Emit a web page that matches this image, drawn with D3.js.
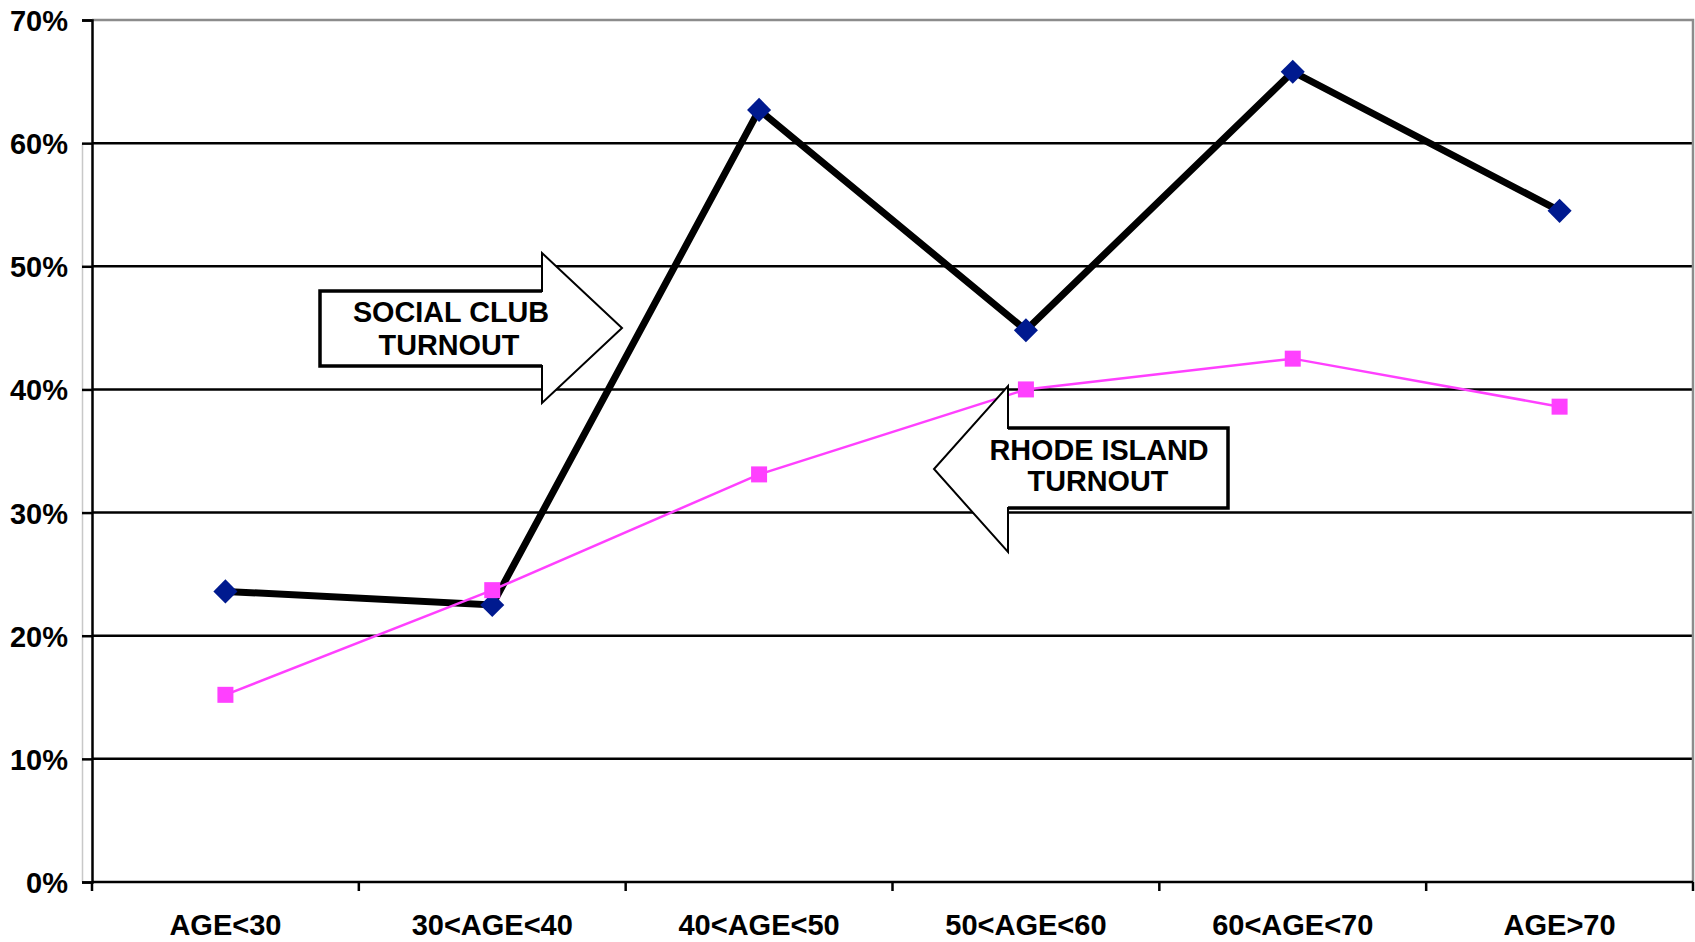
<!DOCTYPE html>
<html>
<head>
<meta charset="utf-8">
<script src="https://cdn.jsdelivr.net/npm/d3@7"></script>
<style>
  html, body { margin: 0; padding: 0; background: #fff; }
  svg { display: block; }
  text { font-family: "Liberation Sans", Arial, sans-serif; font-weight: bold; fill: #000; }
</style>
</head>
<body>
<svg id="chart" width="1695" height="942"></svg>
<script>
// ---- data ----
const categories = ["AGE<30", "30<AGE<40", "40<AGE<50", "50<AGE<60", "60<AGE<70", "AGE>70"];
const socialClub = [23.6, 22.5, 62.7, 44.8, 65.8, 54.5];
const rhodeIsland = [15.2, 23.7, 33.1, 40.0, 42.5, 38.6];
const yTicks = [0, 10, 20, 30, 40, 50, 60, 70];
const arrowLabels = [["SOCIAL CLUB", "TURNOUT"], ["RHODE ISLAND", "TURNOUT"]];

(function () {
// ---- layout ----
const pLeft = 92, pRight = 1693, pTop = 20, pBottom = 882;
const svg = d3.select("#chart");

const x = d3.scaleBand().domain(categories).range([pLeft, pRight]).paddingInner(0).paddingOuter(0);
const y = d3.scaleLinear().domain([0, 70]).range([pBottom, pTop]);
const cx = c => x(c) + x.bandwidth() / 2;

// faint gray line left of the axis
svg.append("line").attr("x1", 82.5).attr("x2", 82.5).attr("y1", y(60)).attr("y2", pBottom)
  .attr("stroke", "#c8c8c8").attr("stroke-width", 1.5);

// gridlines
svg.append("g").selectAll("line").data(yTicks.filter(t => t > 0 && t < 70)).join("line")
  .attr("x1", pLeft).attr("x2", pRight)
  .attr("y1", d => y(d)).attr("y2", d => y(d))
  .attr("stroke", "#000").attr("stroke-width", 2.5);

// top & right border (gray)
svg.append("path")
  .attr("d", `M${pLeft},${y(70)}H${pRight}V${pBottom}`)
  .attr("fill", "none").attr("stroke", "#8c8c8c").attr("stroke-width", 2.5);

// y axis
const yAxis = d3.axisLeft(y).tickValues(yTicks).tickSize(10).tickPadding(14).tickFormat(d => d + "%");
const gy = svg.append("g").attr("transform", `translate(${pLeft},0)`).call(yAxis);
gy.select(".domain").attr("stroke", "#000").attr("stroke-width", 2.5);
gy.selectAll(".tick line").attr("stroke", "#000").attr("stroke-width", 2.5);
gy.selectAll(".tick text").attr("font-size", 29).attr("dy", null).attr("y", 10.5)
  .style("font-family", '"Liberation Sans", Arial, sans-serif').style("font-weight", "bold").attr("fill", "#000");

// x axis: ticks at band boundaries
const boundaries = categories.map(c => x(c)).concat([pRight]);
svg.append("line").attr("x1", pLeft).attr("x2", pRight).attr("y1", pBottom).attr("y2", pBottom)
  .attr("stroke", "#000").attr("stroke-width", 2.5);
svg.append("g").selectAll("line").data(boundaries).join("line")
  .attr("x1", d => d).attr("x2", d => d).attr("y1", pBottom).attr("y2", pBottom + 9)
  .attr("stroke", "#000").attr("stroke-width", 2.5);
svg.append("g").selectAll("text").data(categories).join("text")
  .attr("x", d => cx(d)).attr("y", 935).attr("text-anchor", "middle")
  .attr("font-size", 29).text(d => d);

// series 1: social club
const line = d3.line().x((d, i) => cx(categories[i])).y(d => y(d));
svg.append("path").datum(socialClub).attr("d", line)
  .attr("fill", "none").attr("stroke", "#000").attr("stroke-width", 7).attr("stroke-linejoin", "miter");
svg.append("g").selectAll("path").data(socialClub).join("path")
  .attr("d", d3.symbol().type(d3.symbolSquare).size(290))
  .attr("transform", (d, i) => `translate(${cx(categories[i])},${y(d)}) rotate(45)`)
  .attr("fill", "#001a8f");

// series 2: Rhode Island
svg.append("path").datum(rhodeIsland).attr("d", line)
  .attr("fill", "none").attr("stroke", "#ff40ff").attr("stroke-width", 2.5);
svg.append("g").selectAll("rect").data(rhodeIsland).join("rect")
  .attr("x", (d, i) => cx(categories[i]) - 8).attr("y", d => y(d) - 8)
  .attr("width", 16).attr("height", 16).attr("fill", "#ff40ff");

// block arrows (callouts)
function arrow(pts, boxSegs) {
  svg.append("polygon").attr("points", pts.map(p => p.join(",")).join(" "))
    .attr("fill", "#fff").attr("stroke", "#000").attr("stroke-width", 2).attr("stroke-linejoin", "miter");
  svg.append("path").attr("d", boxSegs).attr("fill", "none").attr("stroke", "#000").attr("stroke-width", 3.5);
}
// social club arrow (pointing right)
arrow([[320,291],[542,291],[542,253],[622,328],[542,403],[542,366],[320,366]],
  "M542,291H320V366H542");
// rhode island arrow (pointing left)
arrow([[1228,428],[1008,428],[1008,386],[934,469],[1008,552],[1008,508],[1228,508]],
  "M1008,428H1228V508H1008");

const labelPos = [[[451, 322], [449, 355]], [[1099, 460], [1098, 491]]];
arrowLabels.forEach((lines, k) => {
  lines.forEach((t, j) => {
    svg.append("text").attr("x", labelPos[k][j][0]).attr("y", labelPos[k][j][1])
      .attr("text-anchor", "middle").attr("font-size", 28.8).text(t);
  });
});
})();
</script>
</body>
</html>
